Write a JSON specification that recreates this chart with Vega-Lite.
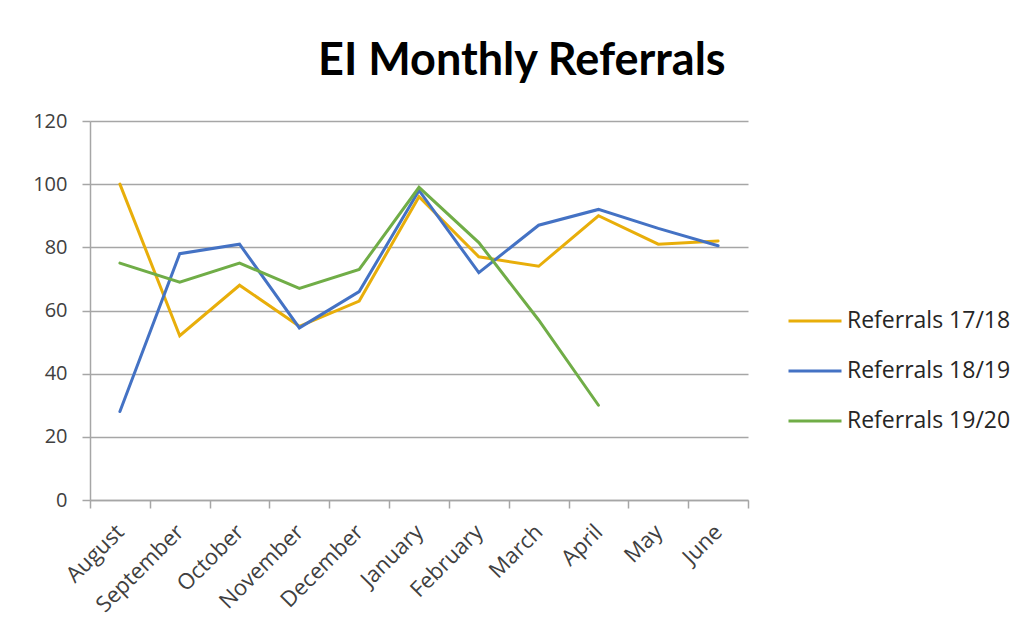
{
  "$schema": "https://vega.github.io/schema/vega-lite/v6.json",
  "width": 658,
  "height": 379,
  "autosize": "none",
  "padding": {"left": 90, "top": 121, "right": 280, "bottom": 139},
  "background": "white",
  "title": {
    "text": "EI Monthly Referrals",
    "font": "Lato",
    "fontSize": 45,
    "fontWeight": "bold",
    "color": "#000000",
    "anchor": "middle",
    "frame": "bounds",
    "offset": 27
  },
  "data": {
    "values": [
      {"month": "August", "series": "Referrals 17/18", "value": 100},
      {"month": "September", "series": "Referrals 17/18", "value": 52},
      {"month": "October", "series": "Referrals 17/18", "value": 68},
      {"month": "November", "series": "Referrals 17/18", "value": 55},
      {"month": "December", "series": "Referrals 17/18", "value": 63},
      {"month": "January", "series": "Referrals 17/18", "value": 96},
      {"month": "February", "series": "Referrals 17/18", "value": 77},
      {"month": "March", "series": "Referrals 17/18", "value": 74},
      {"month": "April", "series": "Referrals 17/18", "value": 90},
      {"month": "May", "series": "Referrals 17/18", "value": 81},
      {"month": "June", "series": "Referrals 17/18", "value": 82},
      {"month": "August", "series": "Referrals 18/19", "value": 28},
      {"month": "September", "series": "Referrals 18/19", "value": 78},
      {"month": "October", "series": "Referrals 18/19", "value": 81},
      {"month": "November", "series": "Referrals 18/19", "value": 54.5},
      {"month": "December", "series": "Referrals 18/19", "value": 66},
      {"month": "January", "series": "Referrals 18/19", "value": 98},
      {"month": "February", "series": "Referrals 18/19", "value": 72},
      {"month": "March", "series": "Referrals 18/19", "value": 87},
      {"month": "April", "series": "Referrals 18/19", "value": 92},
      {"month": "May", "series": "Referrals 18/19", "value": 86},
      {"month": "June", "series": "Referrals 18/19", "value": 80.5},
      {"month": "August", "series": "Referrals 19/20", "value": 75},
      {"month": "September", "series": "Referrals 19/20", "value": 69},
      {"month": "October", "series": "Referrals 19/20", "value": 75},
      {"month": "November", "series": "Referrals 19/20", "value": 67},
      {"month": "December", "series": "Referrals 19/20", "value": 73},
      {"month": "January", "series": "Referrals 19/20", "value": 99},
      {"month": "February", "series": "Referrals 19/20", "value": 81.5},
      {"month": "March", "series": "Referrals 19/20", "value": 57},
      {"month": "April", "series": "Referrals 19/20", "value": 30}
    ]
  },
  "mark": {"type": "line", "strokeWidth": 3, "strokeCap": "round", "strokeJoin": "miter"},
  "encoding": {
    "x": {
      "field": "month",
      "type": "ordinal",
      "sort": ["August", "September", "October", "November", "December", "January", "February", "March", "April", "May", "June"],
      "scale": {"type": "band", "paddingInner": 0, "paddingOuter": 0},
      "bandPosition": 0.5,
      "axis": {
        "title": null,
        "tickBand": "extent",
        "grid": false,
        "domainColor": "#a6a6a6",
        "domainWidth": 1.5,
        "tickColor": "#a6a6a6",
        "tickWidth": 1.5,
        "tickSize": 8,
        "labelAngle": -45,
        "labelAlign": "right",
        "labelBaseline": "middle",
        "labelPadding": 20,
        "labelFont": "Open Sans",
        "labelFontSize": 22,
        "labelColor": "#404040"
      }
    },
    "y": {
      "field": "value",
      "type": "quantitative",
      "scale": {"domain": [0, 120], "nice": false},
      "axis": {
        "title": null,
        "values": [0, 20, 40, 60, 80, 100, 120],
        "grid": true,
        "gridColor": "#a6a6a6",
        "gridWidth": 1.5,
        "domainColor": "#a6a6a6",
        "domainWidth": 1.5,
        "tickColor": "#a6a6a6",
        "tickWidth": 1.5,
        "tickSize": 8,
        "labelPadding": 15,
        "labelFont": "Open Sans",
        "labelFontSize": 20,
        "labelColor": "#404040"
      }
    },
    "color": {
      "field": "series",
      "type": "nominal",
      "scale": {
        "domain": ["Referrals 17/18", "Referrals 18/19", "Referrals 19/20"],
        "range": ["#E8AE0A", "#4472C4", "#70AD47"]
      },
      "legend": {
        "title": null,
        "orient": "none",
        "legendX": 697,
        "legendY": 190,
        "symbolType": "stroke",
        "symbolSize": 2809,
        "symbolStrokeWidth": 3,
        "clipHeight": 20,
        "rowPadding": 27,
        "labelOffset": 4,
        "labelLimit": 300,
        "labelFont": "Open Sans",
        "labelFontSize": 23,
        "labelColor": "#262626",
        "padding": 0
      }
    }
  },
  "config": {
    "view": {"stroke": null}
  }
}
